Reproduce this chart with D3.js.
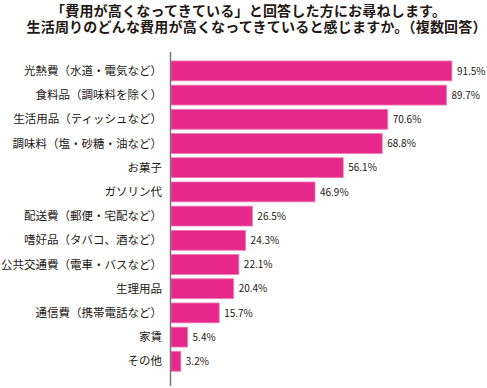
<!DOCTYPE html>
<html>
<head>
<meta charset="utf-8">
<script src="https://cdn.jsdelivr.net/npm/d3@7"></script>
<style>
  body { margin: 0; background: #fff; }
  svg { display: block; }
</style>
</head>
<body>
<div class="vis"></div>
<script>
(function() {
    const titleLines = [
        "「費用が高くなってきている」と回答した方にお尋ねします。",
        "生活周りのどんな費用が高くなってきていると感じますか。（複数回答）"
    ];
    const categories = [
        "光熱費（水道・電気など）",
        "食料品（調味料を除く）",
        "生活用品（ティッシュなど）",
        "調味料（塩・砂糖・油など）",
        "お菓子",
        "ガソリン代",
        "配送費（郵便・宅配など）",
        "嗜好品（タバコ、酒など）",
        "公共交通費（電車・バスなど）",
        "生理用品",
        "通信費（携帯電話など）",
        "家賃",
        "その他"
    ];
    const values = [91.5, 89.7, 70.6, 68.8, 56.1, 46.9, 26.5, 24.3, 22.1, 20.4, 15.7, 5.4, 3.2];

    const width = 487, height = 388;
    const font = "'Noto Sans CJK JP', 'Noto Sans', sans-serif";

    const svg = d3.select(".vis").append("svg")
        .attr("width", width)
        .attr("height", height);

    // title, two lines in one text block
    const title = svg.append("text")
        .attr("class", "title")
        .style("font-family", font)
        .style("font-size", "14px")
        .style("letter-spacing", "0.2px")
        .style("font-weight", "bold")
        .style("fill", "#231815");

    title.selectAll("tspan")
        .data(titleLines)
        .enter().append("tspan")
        .attr("x", (d, i) => i === 0 ? 51 : 26.5)
        .attr("y", (d, i) => 15.5 + i * 16.8)
        .text(d => d);

    const x = d3.scaleLinear()
        .domain([0, 100])
        .range([171, 478]);

    const y = d3.scaleBand()
        .domain(d3.range(categories.length))
        .range([58.8, 373.4])
        .paddingInner(0.18)
        .paddingOuter(0.09);

    svg.selectAll(".bar")
        .data(values)
        .enter().append("rect")
        .attr("class", "bar")
        .attr("x", x(0))
        .attr("y", (d, i) => y(i))
        .attr("width", d => x(d) - x(0))
        .attr("height", y.bandwidth())
        .style("fill", "#e6288a")
        .style("stroke", "#f07ab5")
        .style("stroke-width", 0.8);

    svg.selectAll(".label")
        .data(categories)
        .enter().append("text")
        .attr("class", "label")
        .attr("x", 162)
        .attr("y", (d, i) => y(i) + y.bandwidth() / 2)
        .attr("dy", "0.36em")
        .attr("text-anchor", "end")
        .style("font-family", font)
        .style("font-size", "11.5px")
        .style("fill", "#231815")
        .text(d => d);

    svg.selectAll(".value")
        .data(values)
        .enter().append("text")
        .attr("class", "value")
        .attr("x", d => x(d) + 5)
        .attr("y", (d, i) => y(i) + y.bandwidth() / 2)
        .attr("dy", "0.36em")
        .style("font-family", font)
        .style("font-size", "10px")
        .style("fill", "#231815")
        .text(d => d.toFixed(1) + "%");

    // axis line
    svg.append("line")
        .attr("x1", 170.5).attr("x2", 170.5)
        .attr("y1", 52).attr("y2", 386)
        .style("stroke", "#777")
        .style("stroke-width", 1.5);
})()
</script>
</body>
</html>
